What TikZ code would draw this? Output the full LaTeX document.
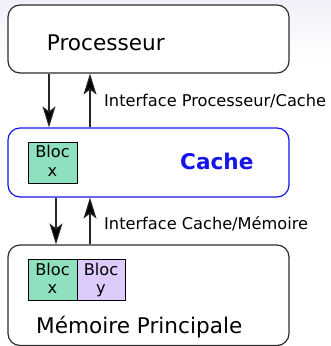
\documentclass[tikz,border=0pt]{standalone}
\usepackage{fontspec}
\setmainfont{DejaVu Sans}
\usetikzlibrary{arrows.meta}

\definecolor{frame}{RGB}{45,45,45}
\definecolor{cacheblue}{RGB}{20,20,235}
\definecolor{blocgreen}{RGB}{142,224,190}
\definecolor{blocpurple}{RGB}{221,203,252}
\definecolor{bgtop}{RGB}{240,242,249}

\tikzset{
  unit/.style={draw=frame, fill=white, line width=1.2pt, rounded corners=12pt,
    minimum width=281pt, inner sep=0pt},
  blk/.style={draw=black, line width=0.9pt, minimum width=49pt,
    minimum height=41pt, inner sep=0pt},
  big/.style={font=\fontsize{21.6}{24}\selectfont, inner sep=0pt},
  small/.style={font=\fontsize{16.2}{19}\selectfont, inner sep=0pt},
  arr/.style={draw=black!85, line width=1.2pt,
    -{Stealth[length=21pt, width=13pt, inset=5pt, fill=black]}},
}

\begin{document}
\begin{tikzpicture}[x=1pt, y=-1pt]
  % page frame and faint backdrop at the top
  \useasboundingbox (0,0) rectangle (331,346);
  \fill[white] (0,0) rectangle (331,346);
  \shade[top color=bgtop, bottom color=white] (0,0) rectangle (331,60);

  % the three units
  \node[unit, minimum height=68pt] (proc) at (148.5,39) {};
  \node[unit, draw=cacheblue, minimum height=69pt] (cache) at (148.5,162.5) {};
  \node[unit, minimum height=100.5pt] (mem) at (148.5,295.25) {};

  % titles
  \node[big, anchor=base west] (ptxt) at (46.7,50) {Processeur};
  \node[big, anchor=base west, text=cacheblue, font=\fontsize{21.6}{24}\selectfont\bfseries] (ctxt) at (180,169.5) {Cache};
  \node[big, anchor=base west] (mtxt) at (36,333) {Mémoire Principale};

  % blocks held in the cache and in memory
  \node[blk, fill=blocgreen] (cbx) at (52.5,162.5) {};
  \node[small, anchor=base] (cbx1) at (cbx.center |- 0,157.3) {Bloc};
  \node[small, anchor=base] (cbx2) at (cbx.center |- 0,176.7) {x};

  \node[blk, fill=blocgreen] (mbx) at (52.5,279.5) {};
  \node[small, anchor=base] (mbx1) at (mbx.center |- 0,275) {Bloc};
  \node[small, anchor=base] (mbx2) at (mbx.center |- 0,293.5) {x};

  \node[blk, fill=blocpurple, minimum width=48pt] (mby) at (101,279.5) {};
  \node[small, anchor=base] (mby1) at (mby.center |- 0,275) {Bloc};
  \node[small, anchor=base] (mby2) at (mby.center |- 0,293.5) {y};

  % interface arrows
  \coordinate (d1) at (49,0);
  \coordinate (d2) at (56,0);
  \coordinate (u) at (90,0);
  \draw[arr] (proc.south -| d1) -- (cache.north -| d1);
  \draw[arr] (cache.north -| u) -- (proc.south -| u);
  \draw[arr] (cache.south -| d2) -- (mem.north -| d2);
  \draw[arr] (mem.north -| u) -- (cache.south -| u);

  % interface labels
  \node[small, anchor=base west] (lpc) at (104,106) {Interface Processeur/Cache};
  \node[small, anchor=base west] (lcm) at (104,229) {Interface Cache/Mémoire};
\end{tikzpicture}
\end{document}
